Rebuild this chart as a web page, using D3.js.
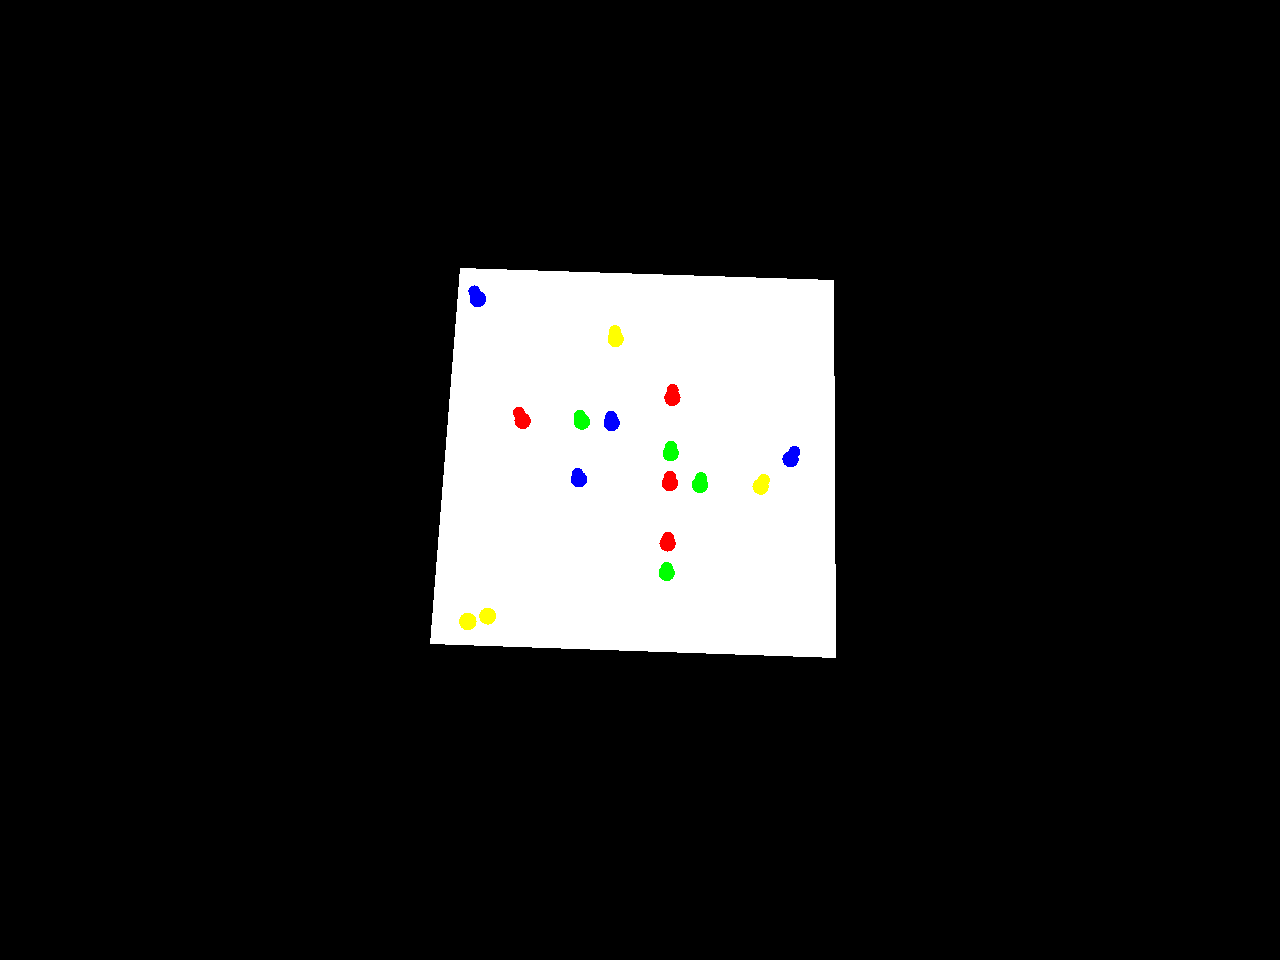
<!DOCTYPE html>
<html>
<head>
<meta charset="utf-8">
<script src="https://cdn.jsdelivr.net/npm/d3@7"></script>
<style>
html,body{margin:0;padding:0;background:#000;}
svg{display:block;}
</style>
</head>
<body>
<svg id="chart" width="1280" height="960"></svg>
<script>
// Data: positions in the plane's own coordinates (0..100 across, 0..100 down)
const colors = ["blue","yellow","red","green","blue","red","green","red","green","blue","blue","yellow","red","green","yellow","yellow"];
const pointU = [5.4, 42.4, 19.3, 34.6, 42.3, 57.8, 57.8, 57.8, 65.5, 34.6, 88.6, 81.0, 57.7, 57.7, 8.9, 13.7];
const pointV = [8.1, 17.5, 40.0, 39.7, 39.8, 32.6, 47.3, 55.2, 55.4, 55.0, 47.8, 55.3, 71.2, 79.0, 93.7, 92.1];
// second (upper) lobe of each marker
const lobeU  = [4.3, 42.1, 18.2, 34.0, 42.1, 57.8, 57.8, 57.8, 65.7, 34.2, 89.6, 81.8, 57.8, 57.7, 8.9, 13.7];
const lobeV  = [6.1, 15.4, 37.9, 38.1, 38.1, 30.5, 45.5, 53.5, 53.6, 53.6, 45.8, 53.5, 69.7, 77.7, 93.7, 92.1];

const palette = {blue:"#0000ff", yellow:"#ffff00", red:"#ff0000", green:"#00ff00"};

// plane corners on screen (view setup)
const TL=[460,268], TR=[834,280], BR=[836,658], BL=[430,644];

const u = d3.scaleLinear().domain([0,100]).range([0,1]);
const v = d3.scaleLinear().domain([0,100]).range([0,1]);

function project(a,b){
  const s=u(a), t=v(b);
  const x=(1-s)*(1-t)*TL[0]+s*(1-t)*TR[0]+s*t*BR[0]+(1-s)*t*BL[0];
  const y=(1-s)*(1-t)*TL[1]+s*(1-t)*TR[1]+s*t*BR[1]+(1-s)*t*BL[1];
  return [x,y];
}

const svg = d3.select("#chart");
svg.append("rect").attr("width",1280).attr("height",960).attr("fill","#000");

const corners=[[0,0],[100,0],[100,100],[0,100]].map(c=>project(c[0],c[1]));
svg.append("path")
  .attr("d", d3.line()(corners)+"Z")
  .attr("fill","#fff")
  .attr("shape-rendering","crispEdges");

const pts = colors.map((c,i)=>({c, u:pointU[i], v:pointV[i], lu:lobeU[i], lv:lobeV[i], single: i>=14}));

const g = svg.append("g").attr("shape-rendering","crispEdges");
g.selectAll("circle.lobe").data(pts).join("circle")
  .attr("class","lobe")
  .attr("cx",d=>project(d.lu,d.lv)[0])
  .attr("cy",d=>project(d.lu,d.lv)[1])
  .attr("r",d=>d.single?8.5:6)
  .attr("fill",d=>palette[d.c]);
g.selectAll("circle.main").data(pts).join("circle")
  .attr("class","main")
  .attr("cx",d=>project(d.u,d.v)[0])
  .attr("cy",d=>project(d.u,d.v)[1])
  .attr("r",(d,i)=>d.single?(i===14?8.8:8.2):8.2)
  .attr("fill",d=>palette[d.c]);
</script>
</body>
</html>
